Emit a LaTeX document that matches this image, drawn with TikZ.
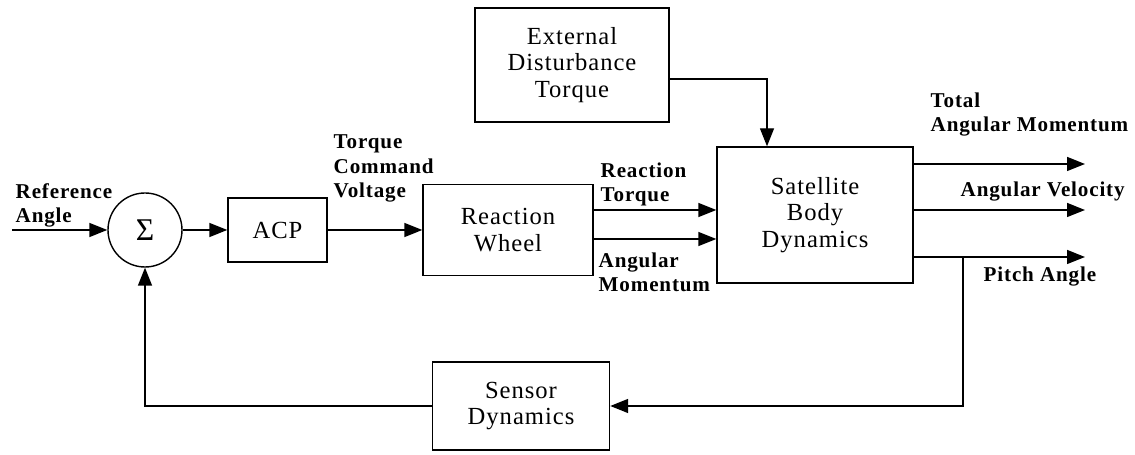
\documentclass[tikz,border=0pt]{standalone}
\usepackage{fontspec}
\setmainfont{Liberation Serif}[LetterSpace=4]
\usetikzlibrary{arrows.meta}
\begin{document}
\begin{tikzpicture}[
        line width=0.8pt,
        >={Triangle[length=0.36cm,width=0.28cm]},
        block/.style={draw, align=center, inner sep=0pt, font=\fontsize{14}{15}\selectfont},
        lbl/.style={anchor=base west, align=left, inner sep=0pt, font=\fontsize{12}{14.2}\selectfont\bfseries}
    ]
        \useasboundingbox (0,0) rectangle (22.7,9.1);
        % blocks
        \node[draw, circle, minimum size=1.48cm, inner sep=0pt, font=\fontsize{18}{18}\selectfont] (sum) at (2.90,4.50) {Σ};
        \node[block, minimum width=1.98cm, minimum height=1.28cm] (acp) at (5.55,4.50) {ACP};
        \node[block, minimum width=3.40cm, minimum height=1.82cm] (rw) at (10.16,4.50) {Reaction\\Wheel};
        \node[block, minimum width=3.92cm, minimum height=2.72cm] (sat) at (16.30,4.80) {Satellite\\Body\\Dynamics};
        \node[block, minimum width=3.88cm, minimum height=2.28cm] (ext) at (11.44,7.80) {External\\Disturbance\\Torque};
        \node[block, minimum width=3.54cm, minimum height=1.76cm] (sens) at (10.42,0.98) {Sensor\\Dynamics};
        % forward path
        \coordinate (ref) at (0.24,4.50);
        \draw [->] (ref) -- (sum);
        \draw [->] (sum) -- (acp);
        \draw [->] (acp) -- (rw);
        \draw [->] (rw.east |- 0,4.90) -- (sat.west |- 0,4.90);
        \draw [->] (rw.east |- 0,4.32) -- (sat.west |- 0,4.32);
        \coordinate (dist) at (15.34,7.52);
        \draw [->] (ext.east |- dist) -- (dist) -- (dist |- sat.north);
        % outputs
        \coordinate (out1) at (21.70,5.82);
        \coordinate (out2) at (21.70,4.90);
        \coordinate (out3) at (21.70,3.96);
        \draw [->] (sat.east |- out1) -- (out1);
        \draw [->] (sat.east |- out2) -- (out2);
        \draw [->] (sat.east |- out3) -- (out3);
        % feedback
        \coordinate (fb) at (19.26,3.96);
        \draw [->] (fb) -- (fb |- sens) -- (sens);
        \draw [->] (sens) -| (sum);
        % labels (anchored at the baseline of their last line)
        \node[lbl] (lref) at (0.30,4.64) {Reference\\Angle};
        \node[lbl] (ltcv) at (6.66,5.14) {Torque\\Command\\Voltage};
        \node[lbl] (lrt) at (12.00,5.06) {Reaction\\Torque};
        \node[lbl] (lam) at (11.96,3.26) {Angular\\Momentum};
        \node[lbl] (ltam) at (18.60,6.46) {Total\\Angular Momentum};
        \node[lbl] (lav) at (19.20,5.16) {Angular Velocity};
        \node[lbl] (lpa) at (19.66,3.46) {Pitch Angle};
\end{tikzpicture}
\end{document}
